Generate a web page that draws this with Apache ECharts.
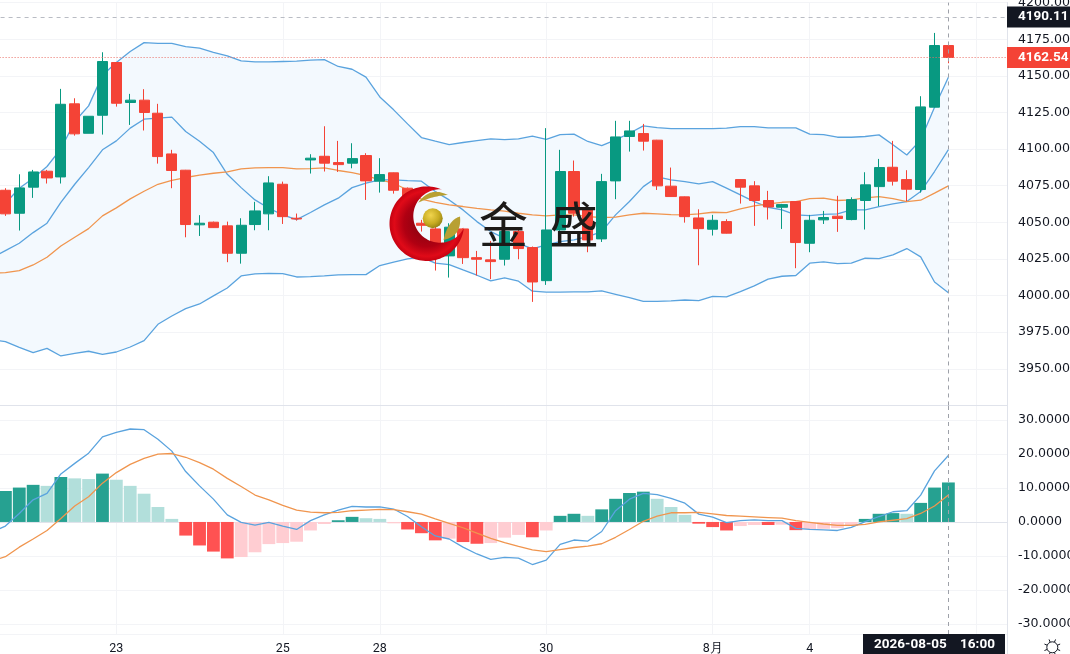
<!DOCTYPE html>
<html><head><meta charset="utf-8">
<style>html,body{margin:0;padding:0;background:#fff}#c{width:1070px;height:654px}</style>
<script src="https://cdn.jsdelivr.net/npm/echarts@6/dist/echarts.min.js"></script>
</head><body><div id="c"></div>
<script>
// first category sits just off the left edge: it only carries the indicator lines
const dayLabels = {9:'23',21:'25',28:'28',40:'30',52:'8月',59:'4'};
const extraGridIdx = [71];
const crossIdx = 69;
const categoryCount = 74;
const crossPrice = 4190.11;
const lastPrice = 4162.54;
const crossTime = '2026-08-05    16:00';
const priceTickMin = 3925, priceTickMax = 4200, priceStep = 25;
const macdMin = -32.9, macdMax = 34.2;

// [open, close, low, high]
const candles = [
[4071.9,4055.8,4054.4,4073.3],[4056.2,4073.5,4044.4,4082.8],[4074.0,4084.4,4066.7,4085.8],[4084.9,4080.3,4076.5,4085.8],
[4081.0,4130.6,4076.5,4141.1],[4130.9,4110.4,4109.2,4134.7],[4110.8,4122.4,4110.8,4122.4],[4123.1,4159.8,4109.9,4166.1],
[4159.1,4131.3,4129.0,4159.3],[4131.8,4133.4,4116.5,4137.7],[4133.4,4125.0,4112.7,4140.9],[4124.5,4094.9,4090.1,4130.9],
[4096.7,4085.4,4073.3,4099.5],[4085.6,4048.5,4039.8,4085.8],[4048.3,4049.4,4040.7,4054.9],[4050.1,4046.4,4046.2,4050.5],
[4047.6,4028.9,4022.8,4050.5],[4028.9,4048.0,4021.8,4052.8],[4048.5,4057.8,4044.6,4064.0],[4055.8,4076.9,4044.6,4081.5],
[4076.0,4053.9,4048.9,4077.8],[4052.8,4052.3,4051.2,4056.0],[4092.6,4093.8,4083.3,4096.5],[4095.1,4090.4,4084.7,4115.6],
[4090.8,4089.4,4084.4,4105.6],[4090.4,4093.5,4086.9,4104.0],[4095.6,4078.3,4065.3,4097.2],[4078.1,4082.6,4070.3,4093.8],
[4083.8,4071.9,4069.6,4084.0],[4073.3,4057.1,4051.7,4073.8],[4049.4,4048.0,4043.7,4051.7],[4045.5,4035.7,4017.1,4049.4],
[4027.1,4046.7,4012.3,4049.4],[4045.5,4025.9,4021.6,4046.0],[4025.9,4024.8,4013.7,4030.5],[4024.4,4023.2,4011.2,4037.3],
[4024.8,4043.7,4020.5,4048.3],[4043.7,4032.1,4024.8,4044.8],[4032.8,4009.3,3995.7,4033.5],[4010.2,4044.8,4007.3,4114.3],
[4044.8,4084.7,4042.6,4099.5],[4084.7,4056.2,4053.9,4092.2],[4058.5,4038.0,4029.6,4060.8],[4038.7,4077.8,4036.6,4083.1],
[4078.3,4108.3,4065.8,4119.3],[4108.6,4112.4,4098.3,4119.3],[4110.6,4105.4,4099.0,4117.2],[4106.1,4074.9,4072.1,4106.3],
[4074.7,4067.6,4067.4,4087.4],[4067.4,4053.9,4049.8,4067.6],[4053.0,4045.7,4020.7,4058.9],[4045.3,4051.4,4041.0,4055.1],
[4050.5,4042.6,4042.4,4052.1],[4079.2,4074.0,4062.8,4079.4],[4074.9,4064.9,4047.6,4078.1],[4064.9,4060.5,4051.9,4071.5],
[4060.3,4062.1,4045.5,4062.6],[4064.2,4036.2,4018.7,4064.4],[4035.7,4051.4,4029.6,4055.1],[4051.7,4053.3,4048.9,4057.8],
[4054.2,4052.6,4043.5,4068.1],[4051.9,4065.5,4051.4,4067.1],[4064.9,4075.6,4045.1,4084.2],[4074.4,4087.4,4061.0,4093.3],
[4087.6,4078.1,4075.1,4105.6],[4079.2,4072.6,4064.4,4085.6],[4072.4,4128.8,4070.3,4136.1],[4128.6,4170.7,4128.4,4179.3],
[4170.7,4162.54,4158.6,4170.9]];

const bandUpper = [4056.2,4063.0,4073.3,4080.1,4088.1,4100.1,4118.8,4129.5,4150.4,4159.1,4166.6,4172.7,4172.1,4172.1,4170.0,4168.9,4166.1,4163.6,4160.2,4159.5,4159.5,4159.8,4160.0,4160.7,4161.1,4156.4,4154.5,4149.1,4135.6,4126.8,4117.2,4107.9,4105.4,4103.1,4104.5,4105.8,4107.0,4106.5,4107.0,4108.8,4106.7,4109.9,4110.2,4105.2,4102.4,4106.3,4110.8,4115.8,4114.7,4114.0,4114.0,4114.0,4114.0,4114.3,4115.4,4115.4,4114.5,4114.5,4114.5,4110.2,4109.9,4108.1,4108.1,4108.6,4109.7,4102.9,4096.0,4106.3,4128.6,4149.1];
const bandLower = [3969.7,3968.6,3964.7,3961.1,3964.0,3958.8,3960.6,3962.0,3959.9,3961.5,3964.9,3969.3,3980.4,3986.1,3991.1,3994.3,3999.8,4005.2,4013.4,4014.8,4015.2,4015.0,4012.7,4013.0,4013.4,4014.1,4014.3,4014.3,4020.5,4022.8,4025.0,4026.2,4022.1,4021.2,4017.5,4013.9,4010.0,4012.1,4009.8,4003.0,4002.3,4002.3,4002.5,4002.5,4003.2,4000.9,3998.6,3996.1,3996.1,3996.4,3997.0,3996.6,3999.5,3999.1,4002.7,4006.6,4011.2,4013.2,4013.7,4022.1,4023.0,4021.8,4022.1,4025.5,4025.3,4027.8,4032.1,4026.4,4009.3,4002.0];
const fastAvg = [4025.5,4030.7,4035.7,4043.0,4049.4,4063.7,4076.0,4087.4,4099.5,4105.6,4114.3,4120.4,4121.1,4121.8,4112.0,4105.4,4097.6,4082.8,4073.7,4065.3,4059.6,4055.1,4051.9,4056.7,4061.9,4066.5,4073.7,4076.7,4079.0,4079.0,4078.5,4078.1,4071.0,4065.3,4058.5,4050.5,4043.7,4039.1,4035.7,4031.9,4034.6,4036.9,4038.0,4040.3,4043.7,4055.1,4064.2,4074.4,4081.0,4079.0,4077.8,4076.2,4077.8,4073.3,4068.7,4064.2,4060.3,4058.5,4055.1,4054.6,4055.5,4055.8,4058.5,4058.5,4060.8,4062.6,4064.2,4071.0,4084.7,4099.7];
const slowAvg = [4015.2,4015.7,4017.1,4020.9,4026.2,4033.9,4039.8,4045.7,4054.4,4059.9,4066.0,4071.2,4076.0,4078.7,4080.6,4082.2,4083.5,4084.4,4086.5,4087.2,4087.4,4087.4,4086.5,4086.7,4087.2,4085.4,4084.0,4081.9,4079.0,4076.7,4072.1,4065.8,4063.7,4061.9,4060.8,4059.6,4058.5,4057.6,4056.2,4055.1,4054.4,4055.1,4055.1,4053.9,4053.3,4053.5,4055.1,4056.2,4055.8,4055.3,4055.1,4055.8,4056.9,4056.7,4059.2,4061.2,4062.6,4063.7,4064.2,4066.2,4066.5,4064.9,4065.3,4066.7,4067.6,4066.2,4064.2,4065.1,4069.9,4074.9];

const macdLine = [-3.0,-1.2,2.5,6.5,8.4,14.1,17.2,20.2,25.0,26.3,27.3,27.1,24.3,20.8,14.8,10.6,6.7,2.1,-0.1,-0.9,-0.1,-1.2,-2.2,0.4,2.1,3.5,4.6,4.4,4.4,3.8,1.6,-1.4,-4.1,-5.0,-7.4,-9.4,-11.0,-10.4,-10.6,-12.5,-11.2,-6.6,-5.3,-5.6,-2.8,3.3,6.7,8.4,8.0,6.9,5.5,2.3,1.4,-0.2,0.4,0.6,0.4,0.4,-1.9,-2.2,-2.3,-2.5,-1.6,0.1,1.6,3.0,3.3,7.9,15.0,19.5];
const signalLine = [-11.5,-10.2,-7.4,-5.0,-2.5,1.0,4.7,7.4,11.4,14.5,16.9,18.7,19.9,20.1,19.0,17.4,15.5,12.8,10.4,7.9,6.5,4.9,3.5,2.9,2.7,2.8,3.3,3.5,3.7,3.6,3.0,2.3,0.9,-0.4,-1.7,-3.3,-4.8,-6.1,-7.2,-8.2,-8.7,-8.1,-7.5,-7.1,-6.4,-4.5,-2.2,0.2,1.7,2.7,2.7,2.8,2.4,1.9,1.7,1.5,1.3,1.1,0.4,-0.1,-0.6,-1.0,-1.0,-0.7,0,0.5,1.0,2.5,4.7,7.9];
const histValues = [null,9.1,10.1,10.9,10.6,13.2,12.8,12.6,14.2,12.4,10.6,8.3,4.4,0.9,-4.0,-6.9,-8.7,-10.7,-10.3,-8.9,-6.5,-6.2,-5.8,-2.5,-0.6,0.5,1.5,1.1,0.9,-0.4,-2.2,-3.3,-5.4,-4.9,-5.9,-6.4,-6.2,-4.6,-3.8,-4.5,-2.5,1.8,2.4,1.8,3.7,6.8,8.5,8.9,6.8,4.4,2.1,-0.5,-1.5,-2.5,-1.2,-0.9,-0.9,-0.8,-2.4,-2.1,-2.0,-1.8,-1.2,0.9,2.4,2.6,2.4,5.6,10.1,11.6];
// D strong rise, L fading rise, R strong fall, P fading fall
const histKinds = '-DDDLDLLDLLLLLRRRRPPPPPPPDDLLPRRRPRRPPPRPDDLDDDDLLLRRRPPRPRPPPPDDDLDDD';

const UP='#089981', DOWN='#f44336', BLUE='#5aa3de', ORANGE='#f0954e', INK='#131722', GRID='#f3f4f7', EDGE='#e0e3eb';
const histPalette = {D:'#26a191',L:'#b2dfdb',R:'#ff5252',P:'#ffcdd2'};
const FONT='"DejaVu Sans"', BOXFONT='Roboto';

const categories = Array.from({length:categoryCount},(_,i)=>dayLabels[i]||'');
const candleData = [['-','-','-','-']].concat(candles);
const bandDiff = bandUpper.map((v,i)=>+(v-bandLower[i]).toFixed(2));
const histData = histValues.map((v,i)=>v==null?null:{value:v,itemStyle:{color:histPalette[histKinds[i]]}});

function lineSeries(name,data,color,x,y){return {name,type:'line',data,xAxisIndex:x,yAxisIndex:y,showSymbol:false,symbol:'none',
  lineStyle:{color,width:1.3},itemStyle:{color},z:4,silent:true,animation:false};}

function isGrid(i){return !!dayLabels[i]||extraGridIdx.includes(i);}

const xShared = {type:'category',data:categories,boundaryGap:true,axisTick:{show:false},
  splitLine:{show:true,alignWithLabel:true,interval:(i)=>isGrid(i),lineStyle:{color:GRID,width:1}}};
function yFmt(d){return v=>v.toFixed(d);}

// crescent, leaves and ball of the watermark
function arcPts(cx,cy,r,a0,a1,n){const p=[];for(let k=0;k<=n;k++){const a=a0+(a1-a0)*k/n;p.push([cx+r*Math.cos(a),cy+r*Math.sin(a)]);}return p;}
function leaf(a,c1,b,c2){const p=[];const q=(s,c,e,t)=>[(1-t)*(1-t)*s[0]+2*(1-t)*t*c[0]+t*t*e[0],(1-t)*(1-t)*s[1]+2*(1-t)*t*c[1]+t*t*e[1]];
  for(let t=0;t<=1;t+=.05)p.push(q(a,c1,b,t));for(let t=0;t<=1;t+=.05)p.push(q(b,c2,a,t));return p;}
const C1=[426.8,223.7],R1=37.3,C2=[440,216],R2=26.7;
const p2=[441.8,189.4],p1=[464.1,227.3];
const ang=(c,p)=>Math.atan2(p[1]-c[1],p[0]-c[0]);
let a1s=ang(C1,p2),a1e=ang(C1,p1); while(a1e>a1s)a1e-=2*Math.PI;
let a2s=ang(C2,p1),a2e=ang(C2,p2); while(a2e<a2s)a2e+=2*Math.PI;
const crescent=arcPts(C1[0],C1[1],R1,a1s,a1e,90).concat(arcPts(C2[0],C2[1],R2,a2s,a2e,70));

const logo=[
 {type:'polygon',z:100,silent:true,shape:{points:crescent},style:{fill:{type:'radial',x:.5,y:.5,r:.56,colorStops:[{offset:0,color:'#7a0410'},{offset:.55,color:'#b00012'},{offset:.78,color:'#e00a18'},{offset:.92,color:'#c00010'},{offset:1,color:'#7e000a'}]}}},
 {type:'polygon',z:101,silent:true,shape:{points:leaf([418.3,202.7],[430,186],[448,195],[432,196])},style:{fill:'#b8a032'}},
 {type:'polygon',z:101,silent:true,shape:{points:leaf([443.5,240],[448,220],[460,216.5],[462,236])},style:{fill:'#b8a032'}},
 {type:'circle',z:101,silent:true,shape:{cx:432.7,cy:218.3,r:10},style:{fill:{type:'radial',x:.4,y:.35,r:.7,colorStops:[{offset:0,color:'#f0d44e'},{offset:.6,color:'#c8ac22'},{offset:1,color:'#8f7d10'}]}}},
 {type:'text',z:102,silent:true,x:503.5,y:224,style:{text:'金',font:'49px "Noto Sans CJK SC"',fill:'#1c1a18',align:'center',verticalAlign:'middle'}},
 {type:'text',z:102,silent:true,x:574,y:224,style:{text:'盛',font:'49px "Noto Sans CJK SC"',fill:'#1c1a18',align:'center',verticalAlign:'middle'}}
];

// chrome of the axis strips
const rays=[];for(let k=0;k<8;k++){const a=k*Math.PI/4+Math.PI/8;rays.push({type:'line',z:20,silent:true,shape:{x1:1052.3+5.5*Math.cos(a),y1:647.3+5.5*Math.sin(a),x2:1052.3+8.5*Math.cos(a),y2:647.3+8.5*Math.sin(a)},style:{stroke:INK,lineWidth:1}});}
const chrome=[
 {type:'rect',z:1,silent:true,shape:{x:1008,y:0,width:4,height:654},style:{fill:'#fff'}},
 {type:'line',z:20,silent:true,shape:{x1:1007.5,y1:634,x2:1007.5,y2:654},style:{stroke:EDGE,lineWidth:1}},
 {type:'rect',z:30,silent:true,shape:{x:863,y:634,width:142,height:20},style:{fill:INK}},
 {type:'text',z:31,silent:true,x:934.5,y:645,style:{text:crossTime,font:'bold 13.5px '+BOXFONT,fill:'#fff',align:'center',verticalAlign:'middle'}},
 {type:'circle',z:20,silent:true,shape:{cx:1052.3,cy:647.3,r:5.5},style:{fill:'none',stroke:INK,lineWidth:1}}
].concat(rays);

const priceBoxLabel=(v,bg)=>({show:true,position:'end',distance:-3.8,formatter:v.toFixed(2),color:'#fff',fontFamily:BOXFONT,fontSize:13.5,fontWeight:'bold',backgroundColor:bg,padding:[4,4,3,11],width:48,overflow:'none',align:'left'});

const chart=echarts.init(document.getElementById('c'),null,{renderer:'canvas'});
chart.setOption({
 animation:false,backgroundColor:'#fff',
 grid:[{left:-15.4,width:1026.2,top:2.6,height:402.86,outerBoundsMode:'none',containLabel:false},{left:-15.4,width:1026.2,top:405.5,height:228.5,outerBoundsMode:'none',containLabel:false}],
 xAxis:[
  Object.assign({},xShared,{gridIndex:0,axisLine:{show:true,lineStyle:{color:EDGE}},axisLabel:{show:false}}),
  Object.assign({},xShared,{gridIndex:1,axisLine:{show:true,lineStyle:{color:EDGE}},
    axisLabel:{show:true,interval:(i)=>!!dayLabels[i],margin:8,color:INK,fontFamily:BOXFONT,fontSize:12.5,hideOverlap:false}})
 ],
 yAxis:[
  {type:'value',gridIndex:0,position:'right',offset:-3.8,min:priceTickMin,max:priceTickMax,interval:priceStep,
   axisLine:{show:true,lineStyle:{color:EDGE}},axisTick:{show:false},splitLine:{show:true,lineStyle:{color:GRID}},
   axisLabel:{margin:11,padding:[5,0,0,0],color:INK,fontFamily:FONT,fontSize:12.6,formatter:yFmt(2),showMinLabel:false,showMaxLabel:true,hideOverlap:false}},
  {type:'value',gridIndex:1,position:'right',offset:-3.8,min:macdMin,max:macdMax,
   axisLine:{show:true,lineStyle:{color:EDGE}},axisTick:{show:false},splitLine:{show:true,lineStyle:{color:GRID}},
   axisLabel:{margin:11,padding:[5,0,0,0],color:INK,fontFamily:FONT,fontSize:12.6,formatter:yFmt(4),showMinLabel:false,showMaxLabel:false,hideOverlap:false}}
 ],
 graphic:{elements:chrome.concat(logo)},
 series:[
  {name:'bandBase',type:'line',data:bandLower,stack:'band',xAxisIndex:0,yAxisIndex:0,showSymbol:false,symbol:'none',lineStyle:{opacity:0,width:0},silent:true,z:2},
  {name:'bandFill',type:'line',data:bandDiff,stack:'band',xAxisIndex:0,yAxisIndex:0,showSymbol:false,symbol:'none',lineStyle:{opacity:0,width:0},areaStyle:{color:'#f3f9fe',opacity:1},silent:true,z:2},
  lineSeries('upper',bandUpper,BLUE,0,0),
  lineSeries('lower',bandLower,BLUE,0,0),
  lineSeries('fast',fastAvg,BLUE,0,0),
  lineSeries('slow',slowAvg,ORANGE,0,0),
  {name:'price',type:'candlestick',data:candleData,xAxisIndex:0,yAxisIndex:0,barWidth:10.6,z:5,silent:true,
   itemStyle:{color:UP,color0:DOWN,borderColor:UP,borderColor0:DOWN,borderWidth:1},
   markLine:{silent:true,symbol:'none',animation:false,z:6,data:[
     {yAxis:lastPrice,lineStyle:{color:'#ea6f66',type:[1,2],width:1},label:priceBoxLabel(lastPrice,DOWN)},
     {yAxis:crossPrice,lineStyle:{color:'#b9bcc4',type:[4,4],width:1},label:priceBoxLabel(crossPrice,INK)},
     {xAxis:crossIdx,lineStyle:{color:'#9ea1a9',type:[4,4],width:1},label:{show:false}}
   ]}},
  {name:'hist',type:'bar',data:histData,xAxisIndex:1,yAxisIndex:1,barWidth:12.8,z:2,silent:true,
   markLine:{silent:true,symbol:'none',animation:false,z:6,data:[{xAxis:crossIdx,lineStyle:{color:'#9ea1a9',type:[4,4],width:1},label:{show:false}}]}},
  lineSeries('macd',macdLine,BLUE,1,1),
  lineSeries('signal',signalLine,ORANGE,1,1)
 ]
});
</script></body></html>
